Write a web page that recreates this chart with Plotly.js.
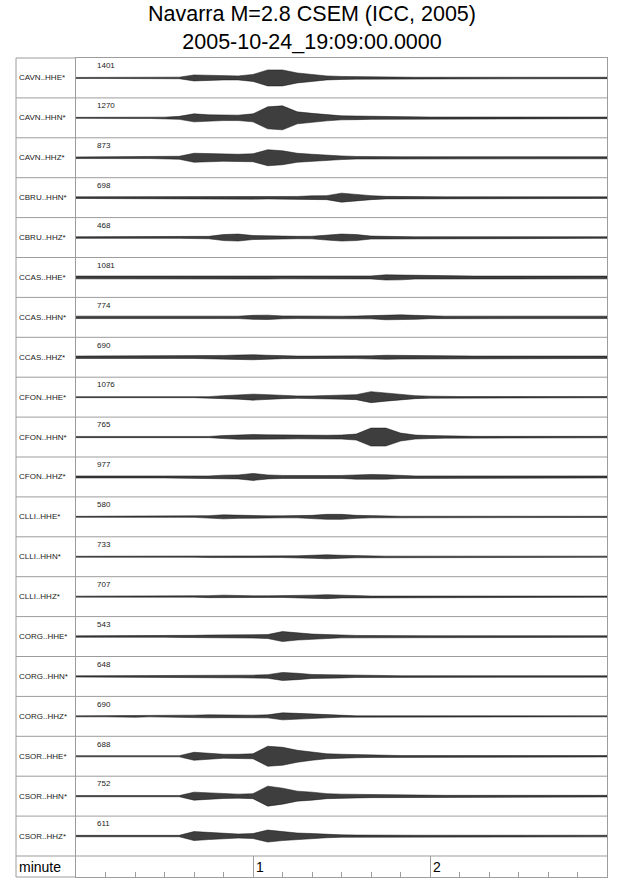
<!DOCTYPE html>
<html>
<head>
<meta charset="utf-8">
<script src="https://cdn.plot.ly/plotly-3.0.1.min.js"></script>
<style>
  html, body { margin: 0; padding: 0; background: #ffffff; }
  #chart { width: 640px; height: 878px; }
</style>
</head>
<body>
<div id="chart"></div>
<script>
// ---------------- data ----------------
const titleLine1 = "Navarra M=2.8 CSEM (ICC, 2005)";
const titleLine2 = "2005-10-24_19:09:00.0000";
const axisLabel = "minute";
const tickValues = [1, 2];
const tickLabels = ["1", "2"];

const stations = ["CAVN..HHE*","CAVN..HHN*","CAVN..HHZ*","CBRU..HHN*","CBRU..HHZ*",
  "CCAS..HHE*","CCAS..HHN*","CCAS..HHZ*","CFON..HHE*","CFON..HHN*","CFON..HHZ*",
  "CLLI..HHE*","CLLI..HHN*","CLLI..HHZ*","CORG..HHE*","CORG..HHN*","CORG..HHZ*",
  "CSOR..HHE*","CSOR..HHN*","CSOR..HHZ*"];
const maxAmplitudes = ["1401","1270","873","698","468","1081","774","690","1076","765",
  "977","580","733","707","543","648","690","688","752","611"];

// sample times in seconds (envelope read every 5 s)
const timeSec = [0,5,10,15,20,25,30,35,40,45,50,55,60,65,70,75,80,85,90,95,100,
  105,110,115,120,125,130,135,140,145,150,155,160,165,170,175,180];

// half-amplitude of each trace (screen pixels)
const CAVN_HHE = [0.5,0.5,0.5,0.5,0.6,0.6,0.6,0.8,3,2.5,2,2,3.5,8,8,5,3.5,2,1.5,1.2,1,0.7,0.7,0.7,0.7,0.7,0.7,0.7,0.7,0.7,0.7,0.7,0.7,0.7,0.7,0.7,0.7];
const CAVN_HHN = [0.5,0.5,0.5,0.5,0.6,0.6,0.7,1.5,4,3,2.7,2.7,4,11,12,6,4.5,3,2,1.8,1.5,1.2,1,0.8,0.8,0.8,0.8,0.8,0.8,0.8,0.8,0.8,0.8,0.8,0.8,0.8,0.8];
const CAVN_HHZ = [0.8,0.8,0.8,0.8,0.8,0.8,0.9,1.5,4.5,4,3.5,3.5,4,8,7,4.5,3.5,2.5,1.8,1.3,1,1,1,1,1,1,1,1,1,1,1,1,1,1,1,1,1];
const CBRU_HHN = [0.8,0.8,0.8,0.8,0.8,0.8,0.8,0.8,0.8,0.8,1.2,1.5,1.5,1.3,1.2,1.2,1.8,2,4.5,3,2,1.3,1,0.8,0.8,0.8,0.8,0.8,0.8,0.8,0.8,0.8,0.8,0.8,0.8,0.8,0.8];
const CBRU_HHZ = [0.8,0.8,0.8,0.8,0.8,0.8,0.8,0.8,0.8,1.2,3,3.5,2,1.5,1.3,1.2,1.3,2.5,3.5,3,1.5,1.2,0.8,0.8,0.8,0.8,0.8,0.8,0.8,0.8,0.8,0.8,0.8,0.8,0.8,0.8,0.8];
const CCAS_HHE = [1.4,1.4,1.4,1.4,1.4,1.4,1.4,1.4,1.4,1.4,1.4,1.4,1.6,1.6,1.4,1.4,1.4,1.4,1.4,1.4,1.5,2.6,2.4,1.6,1.4,1.4,1.4,1.4,1.4,1.4,1.4,1.4,1.4,1.4,1.4,1.4,1.4];
const CCAS_HHN = [1.2,1.2,1.2,1.2,1.2,1.2,1.2,1.2,1.2,1.2,1.2,1.2,2,2.2,1.4,1.2,1.2,1.2,1.2,1.3,1.5,2.4,2.5,2,1.3,1.2,1.2,1.2,1.2,1.2,1.2,1.2,1.2,1.2,1.2,1.2,1.2];
const CCAS_HHZ = [1.2,1.2,1.2,1.2,1.2,1.2,1.2,1.2,1.2,1.2,1.8,2.2,2.5,2,1.4,1.2,1.2,1.2,1.2,1.3,1.4,2,1.8,1.3,1.2,1.2,1.2,1.2,1.2,1.2,1.2,1.2,1.2,1.2,1.2,1.2,1.2];
const CFON_HHE = [0.5,0.5,0.5,0.5,0.5,0.5,0.5,0.5,0.5,0.5,1.5,2,3,2.5,1.5,1.2,1.2,1.5,2,2.5,5.5,4,2.5,1.5,1,0.6,0.6,0.6,0.6,0.6,0.6,0.6,0.6,0.6,0.6,0.6,0.6];
const CFON_HHN = [0.6,0.6,0.6,0.6,0.6,0.6,0.6,0.6,0.6,0.6,1.5,2.2,2.5,2.2,2,1.8,1.8,1.8,2,3,9,9,4,2,1.5,1.1,0.7,0.7,0.7,0.7,0.7,0.7,0.7,0.7,0.7,0.7,0.7];
const CFON_HHZ = [1,1,1,1,1,1,1,1,1,1,1.8,2,3.5,2,1.5,1.3,1.3,1.4,1.5,2.2,2.5,2.2,1.5,1,1,1,1,1,1,1,1,1,1,1,1,1,1];
const CLLI_HHE = [0.5,0.5,0.5,0.5,0.5,0.5,0.5,0.5,0.5,1.2,2,1.5,1.2,1,1,1,1.5,2.5,2.5,1.5,1,0.8,0.6,0.6,0.6,0.6,0.6,0.6,0.6,0.6,0.6,0.6,0.6,0.6,0.6,0.6,0.6];
const CLLI_HHN = [0.5,0.5,0.5,0.5,0.5,0.5,0.5,0.5,0.5,0.8,1.2,1,0.9,0.8,0.8,0.9,1.5,2,1.5,1,0.8,0.6,0.6,0.6,0.6,0.6,0.6,0.6,0.6,0.6,0.6,0.6,0.6,0.6,0.6,0.6,0.6];
const CLLI_HHZ = [0.5,0.5,0.5,0.5,0.5,0.5,0.5,0.5,0.5,1,1.5,1,0.8,0.8,0.8,0.9,1.5,2,1.3,0.9,0.6,0.6,0.6,0.6,0.6,0.6,0.6,0.6,0.6,0.6,0.6,0.6,0.6,0.6,0.6,0.6,0.6];
const CORG_HHE = [0.7,0.7,0.7,0.7,1.2,0.7,0.7,0.9,1.2,1.5,1.5,1.5,1.5,2,5,3.5,2.5,2,1.3,1.1,1,0.8,0.8,0.8,0.8,0.8,0.8,0.8,0.8,0.8,0.8,0.8,0.8,0.8,0.8,0.8,0.8];
const CORG_HHN = [0.6,0.6,0.6,0.6,1,0.6,0.6,0.7,1.2,1.3,1.3,1.3,1.3,1.8,4,3.2,2,1.8,1.5,1,0.7,0.7,0.7,0.7,0.7,0.7,0.7,0.7,0.7,0.7,0.7,0.7,0.7,0.7,0.7,0.7,0.7];
const CORG_HHZ = [0.5,0.5,0.5,0.5,0.9,0.5,0.5,0.5,1.2,1.5,1.3,1.2,1.2,1.5,3.5,3,2.2,1.5,0.8,0.5,0.5,0.5,0.5,0.5,0.5,0.5,0.5,0.9,0.5,0.5,0.5,0.5,0.5,0.5,0.5,0.5,0.5];
const CSOR_HHE = [0.6,0.6,0.6,0.6,0.6,0.6,0.6,0.6,4,3,2,2,2.5,10,9,6,4,2.5,2,1.5,1.2,1,0.7,0.7,0.7,0.7,0.7,0.7,0.7,0.7,0.7,0.7,0.7,0.7,0.7,0.7,0.7];
const CSOR_HHN = [0.6,0.6,0.6,0.6,0.6,0.6,0.6,0.6,4,3.5,2.3,2,2.5,10,8,5,4,2.5,2,1.8,1.5,1.2,0.8,0.8,0.8,0.8,0.8,0.8,0.8,0.8,0.8,0.8,0.8,0.8,0.8,0.8,0.8];
const CSOR_HHZ = [0.7,0.7,0.7,0.7,0.7,0.7,0.7,0.7,4.5,3.5,2.5,2,2.5,6,4.5,3,2.5,1.7,1.2,1,0.8,0.8,0.8,0.8,0.8,0.8,0.8,0.8,0.8,0.8,0.8,0.8,0.8,0.8,0.8,0.8,0.8];

const envelopes = [CAVN_HHE, CAVN_HHN, CAVN_HHZ, CBRU_HHN, CBRU_HHZ,
  CCAS_HHE, CCAS_HHN, CCAS_HHZ, CFON_HHE, CFON_HHN, CFON_HHZ,
  CLLI_HHE, CLLI_HHN, CLLI_HHZ, CORG_HHE, CORG_HHN, CORG_HHZ,
  CSOR_HHE, CSOR_HHN, CSOR_HHZ];

// ---------------- geometry / style ----------------
const FONT = "Liberation Sans, Arial, Helvetica, sans-serif";
const GRID = "#9c9c9c";
const INK = "#111111";
const FILL = "rgba(20,20,20,0.82)";
const ROW_PX = 39.9;        // height of one station row
const MIN_ROW_PX = 21;      // height of the "minute" row
const nRows = stations.length;
const yMin = -MIN_ROW_PX / ROW_PX;
const yMax = nRows;
const plotLeft = 76, plotRight = 607, plotW = plotRight - plotLeft;
const frameLeftPaper = (16 - plotLeft) / plotW;
const labelXPaper = (17 - plotLeft) / plotW;
const toPaperY = v => (v - yMin) / (yMax - yMin);

const timeMin = timeSec.map(s => s / 60);

const traces = envelopes.map((env, i) => {
  const c = nRows - 0.5 - i;
  const upper = env.map(a => c + a / ROW_PX);
  const lower = env.map(a => c - a / ROW_PX).reverse();
  return {
    type: "scatter",
    mode: "lines",
    x: timeMin.concat(timeMin.slice().reverse()),
    y: upper.concat(lower),
    fill: "toself",
    fillcolor: FILL,
    line: { color: INK, width: 0.5 },
    hoverinfo: "skip",
    showlegend: false,
    name: stations[i]
  };
});

const annotations = [];
stations.forEach((s, i) => {
  annotations.push({
    xref: "paper", yref: "y", x: labelXPaper, y: nRows - 0.5 - i,
    xanchor: "left", yanchor: "middle", showarrow: false,
    text: s, font: { family: FONT, size: 8, color: "#222" }
  });
  annotations.push({
    xref: "x", yref: "y", x: 21 / 177, y: nRows - i - 7.7 / ROW_PX,
    xanchor: "left", yanchor: "middle", showarrow: false, xshift: -2,
    text: maxAmplitudes[i], font: { family: FONT, size: 8, color: "#222" }
  });
});
annotations.push({
  xref: "paper", yref: "y", x: labelXPaper, y: yMin / 2,
  xanchor: "left", yanchor: "middle", showarrow: false,
  text: axisLabel, font: { family: FONT, size: 14, color: "#000" }
});
tickValues.forEach((v, k) => {
  annotations.push({
    xref: "x", yref: "y", x: v, y: yMin / 2, xshift: 1,
    xanchor: "left", yanchor: "middle", showarrow: false,
    text: tickLabels[k], font: { family: FONT, size: 14, color: "#000" }
  });
});

const shapes = [];
const ln = { color: GRID, width: 1 };
// outer frame of the label column
shapes.push({ type: "line", xref: "paper", yref: "paper", x0: frameLeftPaper, x1: frameLeftPaper, y0: 0, y1: 1, line: ln });
shapes.push({ type: "line", xref: "paper", yref: "paper", x0: frameLeftPaper, x1: 0, y0: 1, y1: 1, line: ln });
shapes.push({ type: "line", xref: "paper", yref: "paper", x0: frameLeftPaper, x1: 0, y0: 0, y1: 0, line: ln });
// row separators
for (let k = 1; k <= nRows; k++) {
  const yp = toPaperY(nRows - k);
  shapes.push({ type: "line", xref: "paper", yref: "paper", x0: frameLeftPaper, x1: 1, y0: yp, y1: yp, line: ln });
}

const layout = {
  width: 640, height: 878,
  margin: { l: plotLeft, r: 640 - plotRight, t: 58, b: 1, pad: 0 },
  paper_bgcolor: "#ffffff", plot_bgcolor: "#ffffff",
  font: { family: FONT, color: "#000" },
  title: {
    text: titleLine1 + "<br>" + titleLine2,
    font: { family: FONT, size: 21.5, color: "#000" },
    xref: "container", x: 312 / 640, xanchor: "center",
    yref: "container", y: 1 - 21 / 878, yanchor: "top"
  },
  xaxis: {
    range: [0, 3], fixedrange: true, zeroline: false, showgrid: false,
    showline: true, mirror: true, linecolor: GRID, linewidth: 1,
    tickmode: "array", tickvals: tickValues, ticktext: tickLabels,
    showticklabels: false, ticks: "inside", ticklen: MIN_ROW_PX, tickcolor: GRID, tickwidth: 1,
    minor: { tickmode: "linear", tick0: 0, dtick: 1 / 6, ticks: "inside", ticklen: 5, tickcolor: GRID, tickwidth: 1, showgrid: false }
  },
  yaxis: {
    range: [yMin, yMax], fixedrange: true, zeroline: false, showgrid: false,
    showline: true, mirror: true, linecolor: GRID, linewidth: 1,
    showticklabels: false, ticks: ""
  },
  shapes: shapes,
  annotations: annotations,
  showlegend: false
};

Plotly.newPlot("chart", traces, layout, { staticPlot: true, displayModeBar: false });
</script>
</body>
</html>
